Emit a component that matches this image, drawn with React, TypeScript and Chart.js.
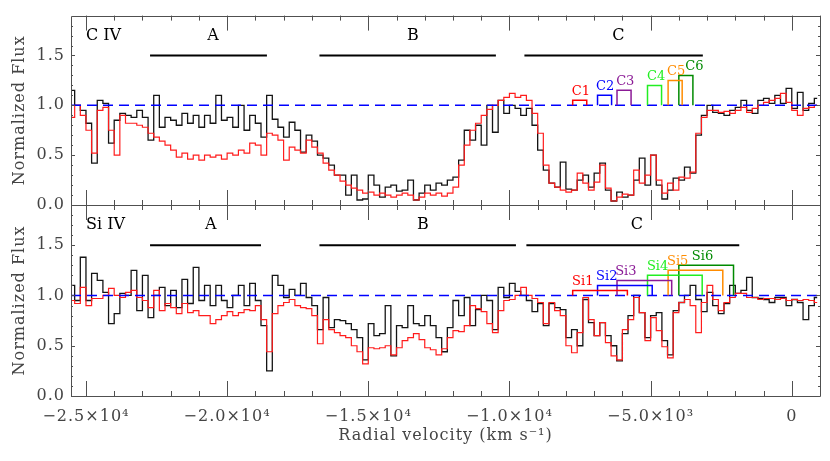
import React, { useEffect, useRef } from "react";
import { Chart, registerables } from "chart.js";

Chart.register(...registerables);

// ---------------- data ----------------
// bin centres (km/s), 200 km/s bins
const VELOCITY = [
  -25500, -25300, -25100, -24900, -24700, -24500, -24300, -24100, -23900, -23700,
  -23500, -23300, -23100, -22900, -22700, -22500, -22300, -22100, -21900, -21700,
  -21500, -21300, -21100, -20900, -20700, -20500, -20300, -20100, -19900, -19700,
  -19500, -19300, -19100, -18900, -18700, -18500, -18300, -18100, -17900, -17700,
  -17500, -17300, -17100, -16900, -16700, -16500, -16300, -16100, -15900, -15700,
  -15500, -15300, -15100, -14900, -14700, -14500, -14300, -14100, -13900, -13700,
  -13500, -13300, -13100, -12900, -12700, -12500, -12300, -12100, -11900, -11700,
  -11500, -11300, -11100, -10900, -10700, -10500, -10300, -10100, -9900, -9700,
  -9500, -9300, -9100, -8900, -8700, -8500, -8300, -8100, -7900, -7700,
  -7500, -7300, -7100, -6900, -6700, -6500, -6300, -6100, -5900, -5700,
  -5500, -5300, -5100, -4900, -4700, -4500, -4300, -4100, -3900, -3700,
  -3500, -3300, -3100, -2900, -2700, -2500, -2300, -2100, -1900, -1700,
  -1500, -1300, -1100, -900, -700, -500, -300, -100, 100, 300,
  500, 700, 900,
];

const CIV_BLACK = [
  1.15, 1.0, 0.95, 0.82, 0.42, 1.05, 1.02, 0.62, 0.85, 0.92,
  0.9, 0.88, 0.95, 0.88, 0.65, 1.1, 0.78, 0.88, 0.85, 0.8,
  0.92, 0.82, 0.9, 0.78, 0.9, 0.82, 1.1, 0.85, 0.88, 0.78,
  1.0, 0.75, 0.9, 0.82, 0.68, 1.1, 0.86, 0.78, 0.68, 0.83,
  0.75, 0.53, 0.7, 0.64, 0.5, 0.47, 0.4, 0.3, 0.3, 0.1,
  0.3, 0.05, 0.06, 0.3, 0.2, 0.08, 0.18, 0.2, 0.14, 0.15,
  0.25, 0.05, 0.12, 0.2, 0.15, 0.22, 0.2, 0.25, 0.28, 0.45,
  0.75, 0.65, 0.8, 0.6, 1.0, 0.73, 1.05, 0.92, 1.0, 0.97,
  0.9, 0.97, 0.8, 0.55, 0.35, 0.22, 0.18, 0.43, 0.16, 0.15,
  0.25, 0.3, 0.18, 0.32, 0.42, 0.15, 0.04, 0.13, 0.08, 0.1,
  0.25, 0.47, 0.2, 0.5, 0.2, 0.06, 0.15, 0.27, 0.25, 0.38,
  0.32, 0.7, 0.9, 1.0, 0.93, 0.92, 0.9, 0.95, 0.98, 1.05,
  0.95, 0.92, 1.05, 1.07, 1.02, 1.1, 1.02, 1.17, 0.97, 1.13,
  0.95, 1.02, 1.07,
];

const CIV_RED = [
  0.88, 1.0, 0.9, 0.75, 0.52, 0.95, 0.98, 0.75, 0.5, 0.9,
  0.82, 0.82, 0.8, 0.78, 0.72, 0.68, 0.64, 0.6, 0.55, 0.48,
  0.52, 0.46, 0.5, 0.45, 0.5, 0.48, 0.5, 0.46, 0.52, 0.5,
  0.55, 0.52, 0.62, 0.6, 0.5, 0.72, 0.7, 0.65, 0.45, 0.58,
  0.55, 0.52, 0.65, 0.58, 0.52, 0.42, 0.35, 0.3, 0.24, 0.2,
  0.17, 0.15, 0.12, 0.13, 0.1, 0.12, 0.1, 0.08, 0.1, 0.12,
  0.1, 0.05, 0.08, 0.12, 0.1, 0.12, 0.09, 0.12, 0.18, 0.4,
  0.6, 0.75, 0.82, 0.9, 0.96, 1.0, 1.05, 1.08, 1.12, 1.08,
  1.1, 1.05, 0.92, 0.72, 0.4, 0.22, 0.18, 0.15, 0.13, 0.15,
  0.32, 0.22, 0.15, 0.23, 0.4, 0.17, 0.04, 0.08, 0.11, 0.1,
  0.35, 0.22, 0.3, 0.5, 0.25, 0.12, 0.22, 0.15, 0.28, 0.27,
  0.33, 0.72, 0.88, 0.95, 0.95, 0.93, 0.94, 0.92, 0.95, 0.98,
  0.93, 0.97, 1.0, 1.03, 1.05, 1.07, 1.12, 1.03, 0.95, 0.9,
  0.97, 0.98, 1.0,
];

const SIIV_BLACK = [
  1.1, 0.95, 1.38, 0.95, 1.22, 1.15, 1.03, 0.72, 0.82, 1.02,
  1.0, 1.25, 0.85, 1.2, 0.78, 1.0, 1.08, 0.9, 1.05, 0.88,
  1.16, 0.92, 1.28, 0.95, 1.1, 0.9, 1.1, 0.95, 0.88, 1.0,
  1.1, 0.9, 1.12, 0.95, 0.7, 0.25, 1.2, 1.1, 0.98, 1.06,
  1.0, 1.12, 0.98, 0.9, 0.66, 0.98, 0.68, 0.76, 0.75, 0.72,
  0.66, 0.58, 0.36, 0.72, 0.6, 0.62, 0.9, 0.4, 0.7, 0.68,
  0.9, 0.72, 0.7, 0.8, 0.7, 0.58, 0.44, 0.68, 0.95, 0.8,
  0.98, 0.7, 0.86, 1.0, 0.95, 0.66, 1.08, 0.98, 1.12, 1.04,
  1.0, 0.95, 0.84, 0.92, 0.7, 0.92, 0.88, 0.86, 0.58, 0.66,
  0.5, 0.96, 0.73, 0.6, 0.73, 0.6, 0.5, 0.35, 0.62, 0.8,
  1.0, 0.83, 0.58, 0.8, 0.83, 0.55, 0.41, 0.85, 0.93, 1.0,
  1.1, 0.96, 0.84, 1.03, 0.9, 0.82, 0.92, 1.1, 1.02, 1.05,
  1.18, 0.98, 0.97, 0.96, 0.93, 0.98, 0.98, 0.9, 0.96, 0.93,
  0.76, 0.9, 0.98,
];

const SIIV_RED = [
  0.95, 0.92, 1.08, 0.9, 0.97, 0.97, 1.0, 1.07, 1.0, 0.98,
  1.03, 1.05, 0.98, 0.95, 0.88, 1.05, 0.85, 0.92, 0.88, 0.82,
  0.92, 0.83, 0.85, 0.8, 0.8, 0.72, 0.76, 0.8, 0.84, 0.8,
  0.83, 0.86, 0.85, 0.9, 0.76, 0.44, 0.82, 0.9, 0.93, 0.96,
  0.9, 0.88, 0.87, 0.8, 0.52, 0.76, 0.66, 0.63, 0.6, 0.58,
  0.5, 0.44, 0.32, 0.48, 0.47, 0.48, 0.5, 0.41, 0.48, 0.55,
  0.58, 0.62, 0.56, 0.48, 0.46, 0.41, 0.47, 0.58, 0.65, 0.64,
  0.7, 0.9, 0.87, 0.84, 0.72, 0.63, 0.85, 0.95, 0.96, 1.0,
  1.08, 1.0, 0.97, 0.93, 0.72, 0.93, 0.85, 0.8, 0.5, 0.43,
  0.63, 0.98, 0.76, 0.6, 0.73, 0.53, 0.4, 0.36, 0.66, 0.76,
  0.98, 0.83, 0.55, 0.78, 0.65, 0.49, 0.38, 0.83, 0.93, 0.96,
  0.9, 0.63, 0.93, 1.1, 0.96, 0.85, 0.93, 0.98, 1.02, 1.02,
  0.98, 0.98, 0.96, 0.97, 0.97, 0.96, 0.97, 0.95, 0.96, 0.95,
  0.96, 0.95, 0.93,
];

// axes
const X_MIN = -25530;
const X_MAX = 1000;
const Y_MIN = 0;
const Y_MAX = 1.9;
const X_MAJOR = [-25000, -20000, -15000, -10000, -5000, 0];
const X_MAJOR_LABELS = ["\u22122.5\u00d710\u2074", "\u22122.0\u00d710\u2074", "\u22121.5\u00d710\u2074", "\u22121.0\u00d710\u2074", "\u22125.0\u00d710\u00b3", "0"];
const X_MINOR = [
  -25000, -24000, -23000, -22000, -21000, -20000, -19000, -18000, -17000, -16000,
  -15000, -14000, -13000, -12000, -11000, -10000, -9000, -8000, -7000, -6000,
  -5000, -4000, -3000, -2000, -1000, 0, 1000,
];
const Y_MAJOR = [0, 0.5, 1.0, 1.5];
const Y_MAJOR_LABELS = ["0.0", "0.5", "1.0", "1.5"];
const Y_MINOR = [0.1, 0.2, 0.3, 0.4, 0.6, 0.7, 0.8, 0.9, 1.1, 1.2, 1.3, 1.4, 1.6, 1.7, 1.8];

// continuum, regions and components
const CONTINUUM = 1.0;
const REGION_BAR_Y = 1.5;
const REGION_LABEL_Y = 1.7;
const REGION_NAMES = ["A", "B", "C"];
const CIV_REGION_START = [-22730, -16730, -9470];
const CIV_REGION_END = [-18590, -10480, -3150];
const CIV_REGION_LABEL_V = [-20500, -13420, -6140];
const SIIV_REGION_START = [-22730, -16730, -9400];
const SIIV_REGION_END = [-18800, -9770, -1860];
const SIIV_REGION_LABEL_V = [-20580, -13070, -5490];

const COMP_V = [-7760, -6880, -6190, -5110, -4380, -4000];
const COMP_COLORS = ["#ff0000", "#0000ff", "#8b1a96", "#22ee22", "#ff8c00", "#008a00"];
const CIV_SEPARATION = 498;
const SIIV_SEPARATION = 1937;
const CIV_COMP_H = [1.05, 1.1, 1.15, 1.2, 1.25, 1.3];
const SIIV_COMP_H = [1.05, 1.1, 1.15, 1.2, 1.25, 1.3];
const CIV_COMP_LABELS = ["C1", "C2", "C3", "C4", "C5", "C6"];
const SIIV_COMP_LABELS = ["Si1", "Si2", "Si3", "Si4", "Si5", "Si6"];
const CIV_COMP_LABEL_V = [-7790, -6930, -6220, -5130, -4420, -3770];
const SIIV_COMP_LABEL_V = [-7780, -6930, -6255, -5130, -4420, -3540];
const ION_LABEL_V = -25000;

// ---------------- styling ----------------
const FONT_FAMILY = "'DejaVu Serif', 'Liberation Serif', serif";
const TEXT_COLOR = "#444444";
const FRAME_COLOR = "#505050";

type PanelSpec = {
  ion: string;
  black: number[];
  red: number[];
  sep: number;
  compH: number[];
  compLabels: string[];
  compLabelV: number[];
  regionStart: number[];
  regionEnd: number[];
  regionLabelV: number[];
  bottom: boolean;
};

const CIV_SPEC: PanelSpec = {
  ion: "C IV",
  black: CIV_BLACK,
  red: CIV_RED,
  sep: CIV_SEPARATION,
  compH: CIV_COMP_H,
  compLabels: CIV_COMP_LABELS,
  compLabelV: CIV_COMP_LABEL_V,
  regionStart: CIV_REGION_START,
  regionEnd: CIV_REGION_END,
  regionLabelV: CIV_REGION_LABEL_V,
  bottom: false,
};

const SIIV_SPEC: PanelSpec = {
  ion: "Si IV",
  black: SIIV_BLACK,
  red: SIIV_RED,
  sep: SIIV_SEPARATION,
  compH: SIIV_COMP_H,
  compLabels: SIIV_COMP_LABELS,
  compLabelV: SIIV_COMP_LABEL_V,
  regionStart: SIIV_REGION_START,
  regionEnd: SIIV_REGION_END,
  regionLabelV: SIIV_REGION_LABEL_V,
  bottom: true,
};

function pts(xs: number[], ys: number[]) {
  return xs.map((x, i) => ({ x, y: ys[i] }));
}

const spacingPlugin = {
  id: "spacing",
  beforeDraw(chart: any) {
    chart.ctx.letterSpacing = "1px";
  },
  afterDraw(chart: any) {
    chart.ctx.letterSpacing = "0px";
  },
};

function decorPlugin(spec: PanelSpec) {
  return {
    id: "decor",
    afterDatasetsDraw(chart: any) {
      const { ctx, chartArea } = chart;
      const { left, right, top, bottom } = chartArea;
      const xs = chart.scales.x;
      const ys = chart.scales.y;
      ctx.save();
      ctx.letterSpacing = "0px";
      ctx.strokeStyle = FRAME_COLOR;
      ctx.lineWidth = 1;
      ctx.beginPath();
      ctx.rect(Math.round(left) + 0.5, Math.round(top) + 0.5, Math.round(right - left), Math.round(bottom - top));
      ctx.stroke();

      ctx.beginPath();
      X_MINOR.forEach((v) => {
        const p = Math.round(xs.getPixelForValue(v)) + 0.5;
        const len = X_MAJOR.includes(v) ? 15 : 5;
        ctx.moveTo(p, bottom);
        ctx.lineTo(p, bottom - len);
        ctx.moveTo(p, top);
        ctx.lineTo(p, top + len);
      });
      const yTick = (v: number, len: number) => {
        const p = Math.round(ys.getPixelForValue(v)) + 0.5;
        ctx.moveTo(left, p);
        ctx.lineTo(left + len, p);
        ctx.moveTo(right, p);
        ctx.lineTo(right - len, p);
      };
      Y_MAJOR.forEach((v) => yTick(v, 4));
      Y_MINOR.forEach((v) => yTick(v, 2));
      ctx.stroke();

      // texts
      const yLab = ys.getPixelForValue(REGION_LABEL_Y);
      ctx.fillStyle = "#000";
      ctx.font = `16px ${FONT_FAMILY}`;
      ctx.textBaseline = "middle";
      ctx.textAlign = "left";
      ctx.fillText(spec.ion, xs.getPixelForValue(ION_LABEL_V), yLab);
      ctx.textAlign = "center";
      REGION_NAMES.forEach((n, k) => {
        ctx.fillText(n, xs.getPixelForValue(spec.regionLabelV[k]), yLab);
      });
      ctx.font = `13px ${FONT_FAMILY}`;
      ctx.textAlign = "left";
      spec.compLabels.forEach((t, k) => {
        ctx.fillStyle = COMP_COLORS[k];
        ctx.fillText(t, xs.getPixelForValue(spec.compLabelV[k]), ys.getPixelForValue(spec.compH[k]) - 9);
      });
      ctx.restore();
    },
  };
}

function buildChart(canvas: HTMLCanvasElement, spec: PanelSpec) {
  const datasets: any[] = [];
  datasets.push({
    data: pts(VELOCITY, spec.black),
    borderColor: "#141414",
    borderWidth: 1.3,
    stepped: "middle",
    pointRadius: 0,
    order: 5,
  });
  datasets.push({
    data: pts(VELOCITY, spec.red),
    borderColor: "#ff1c1c",
    borderWidth: 1.2,
    stepped: "middle",
    pointRadius: 0,
    order: 4,
  });
  datasets.push({
    data: [
      { x: X_MIN, y: CONTINUUM },
      { x: X_MAX, y: CONTINUUM },
    ],
    borderColor: "#0000ff",
    borderWidth: 1.5,
    borderDash: [10, 6],
    pointRadius: 0,
    order: 3,
  });
  spec.regionStart.forEach((s, k) => {
    datasets.push({
      data: [
        { x: s, y: REGION_BAR_Y },
        { x: spec.regionEnd[k], y: REGION_BAR_Y },
      ],
      borderColor: "#000",
      borderWidth: 2,
      pointRadius: 0,
      order: 2,
    });
  });
  COMP_V.forEach((v, k) => {
    const h = spec.compH[k];
    const v2 = v + spec.sep;
    datasets.push({
      data: [
        { x: v, y: CONTINUUM },
        { x: v, y: h },
        { x: v2, y: h },
        { x: v2, y: CONTINUUM },
      ],
      borderColor: COMP_COLORS[k],
      borderWidth: 1.5,
      pointRadius: 0,
      order: 1,
    });
  });

  const font = { family: FONT_FAMILY, size: 16 };
  const xScale: any = spec.bottom
    ? {
        type: "linear",
        min: X_MIN,
        max: X_MAX,
        afterBuildTicks: (s: any) => {
          s.ticks = X_MAJOR.map((v) => ({ value: v }));
        },
        afterFit: (s: any) => {
          s.height = 65;
        },
        grid: { display: false, drawTicks: false },
        border: { display: false },
        ticks: {
          autoSkip: false,
          maxRotation: 0,
          minRotation: 0,
          padding: 11,
          color: TEXT_COLOR,
          font,
          callback: (_v: any, i: number) => X_MAJOR_LABELS[i],
        },
        title: {
          display: true,
          text: "Radial velocity (km s\u207b\u00b9)",
          color: TEXT_COLOR,
          font,
          padding: { top: 0, bottom: 16 },
        },
      }
    : { type: "linear", min: X_MIN, max: X_MAX, display: false };

  return new Chart(canvas, {
    type: "line",
    data: { datasets },
    options: {
      animation: false,
      responsive: false,
      devicePixelRatio: 1,
      layout: {
        padding: spec.bottom
          ? { top: 205, bottom: 0, left: 0, right: 10 }
          : { top: 15, bottom: 256, left: 0, right: 10 },
      },
      plugins: { legend: { display: false }, tooltip: { enabled: false } },
      elements: { line: { tension: 0 } },
      scales: {
        x: xScale,
        y: {
          type: "linear",
          min: Y_MIN,
          max: Y_MAX,
          afterBuildTicks: (s: any) => {
            s.ticks = Y_MAJOR.map((v) => ({ value: v }));
          },
          afterFit: (s: any) => {
            s.width = 71;
          },
          grid: { display: false, drawTicks: false },
          border: { display: false },
          ticks: {
            padding: 6,
            color: TEXT_COLOR,
            font,
            callback: (_v: any, i: number) => Y_MAJOR_LABELS[i],
          },
          title: {
            display: true,
            text: "Normalized Flux",
            color: TEXT_COLOR,
            font,
            padding: { top: 10, bottom: 0 },
          },
        },
      },
    } as any,
    plugins: [spacingPlugin, decorPlugin(spec)],
  });
}

export default function App() {
  const topRef = useRef<HTMLCanvasElement>(null);
  const botRef = useRef<HTMLCanvasElement>(null);
  useEffect(() => {
    const c1 = buildChart(topRef.current as HTMLCanvasElement, CIV_SPEC);
    const c2 = buildChart(botRef.current as HTMLCanvasElement, SIIV_SPEC);
    return () => {
      c1.destroy();
      c2.destroy();
    };
  }, []);
  return (
    <div style={{ position: "absolute", left: 0, top: 0, width: 830, height: 461, background: "#fff" }}>
      <canvas ref={topRef} width={830} height={461} style={{ position: "absolute", left: 0, top: 0 }} />
      <canvas ref={botRef} width={830} height={461} style={{ position: "absolute", left: 0, top: 0 }} />
    </div>
  );
}
